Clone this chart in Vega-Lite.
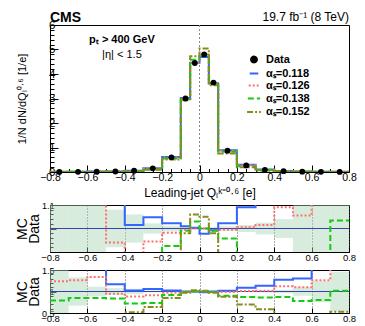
{
  "$schema": "https://vega.github.io/schema/vega-lite/v6.json",
  "padding": {"left": 14, "top": 10, "right": 8, "bottom": 0},
  "spacing": 1,
  "config": {
    "font": "Liberation Sans",
    "view": {"stroke": "#000000", "strokeWidth": 1},
    "axis": {"domain": false, "grid": false, "labelOverlap": false, "labelFlush": false, "tickColor": "#000000", "labelColor": "#000000", "titleColor": "#000000", "titleFontWeight": "normal", "labelFont": "Liberation Sans", "titleFont": "Liberation Sans"}
  },
  "resolve": {"scale": {"color": "independent", "strokeDash": "independent", "shape": "independent", "size": "independent"}, "legend": {"color": "independent", "strokeDash": "independent", "shape": "independent", "size": "independent"}},
  "datasets": {
    "obs": [
      {"s":"Data","lo":-0.8,"hi":-0.7,"c":-0.75,"v":0.005,"bl":0.4,"bh":1.6},
      {"s":"Data","lo":-0.7,"hi":-0.6,"c":-0.65,"v":0.008,"bl":0.67,"bh":1.33},
      {"s":"Data","lo":-0.6,"hi":-0.5,"c":-0.55,"v":0.012,"bl":0.89,"bh":1.11},
      {"s":"Data","lo":-0.5,"hi":-0.4,"c":-0.45,"v":0.02,"bl":0.92,"bh":1.08},
      {"s":"Data","lo":-0.4,"hi":-0.3,"c":-0.35,"v":0.05,"bl":0.94,"bh":1.06},
      {"s":"Data","lo":-0.3,"hi":-0.2,"c":-0.25,"v":0.15,"bl":0.978,"bh":1.022},
      {"s":"Data","lo":-0.2,"hi":-0.1,"c":-0.15,"v":0.6,"bl":0.988,"bh":1.012},
      {"s":"Data","lo":-0.1,"hi":-0.05,"c":-0.075,"v":3.0,"bl":0.994,"bh":1.006},
      {"s":"Data","lo":-0.05,"hi":0,"c":-0.025,"v":4.45,"bl":0.995,"bh":1.005},
      {"s":"Data","lo":0,"hi":0.05,"c":0.025,"v":4.8,"bl":0.995,"bh":1.005},
      {"s":"Data","lo":0.05,"hi":0.1,"c":0.075,"v":3.65,"bl":0.994,"bh":1.006},
      {"s":"Data","lo":0.1,"hi":0.2,"c":0.15,"v":0.87,"bl":0.99,"bh":1.01},
      {"s":"Data","lo":0.2,"hi":0.3,"c":0.25,"v":0.27,"bl":0.985,"bh":1.015},
      {"s":"Data","lo":0.3,"hi":0.4,"c":0.35,"v":0.09,"bl":0.975,"bh":1.025},
      {"s":"Data","lo":0.4,"hi":0.5,"c":0.45,"v":0.035,"bl":0.96,"bh":1.04},
      {"s":"Data","lo":0.5,"hi":0.6,"c":0.55,"v":0.015,"bl":0.9,"bh":1.1},
      {"s":"Data","lo":0.6,"hi":0.7,"c":0.65,"v":0.008,"bl":0.75,"bh":1.25},
      {"s":"Data","lo":0.7,"hi":0.8,"c":0.75,"v":0.005,"bl":0.54,"bh":1.46}
    ],
    "mc": [
      {"s":"αₛ=0.118","lo":-0.8,"hi":-0.7,"v":0.010,"ra":1.2,"rb":1.7},
      {"s":"αₛ=0.118","lo":-0.7,"hi":-0.6,"v":0.014,"ra":1.2,"rb":1.7},
      {"s":"αₛ=0.118","lo":-0.6,"hi":-0.5,"v":0.020,"ra":1.2,"rb":1.7},
      {"s":"αₛ=0.118","lo":-0.5,"hi":-0.4,"v":0.023,"ra":1.2,"rb":1.167},
      {"s":"αₛ=0.118","lo":-0.4,"hi":-0.3,"v":0.051,"ra":1.015,"rb":1.026},
      {"s":"αₛ=0.118","lo":-0.3,"hi":-0.2,"v":0.157,"ra":1.048,"rb":1.056},
      {"s":"αₛ=0.118","lo":-0.2,"hi":-0.1,"v":0.612,"ra":1.022,"rb":1.026},
      {"s":"αₛ=0.118","lo":-0.1,"hi":-0.05,"v":3.02,"ra":1.01,"rb":1.0},
      {"s":"αₛ=0.118","lo":-0.05,"hi":0,"v":4.46,"ra":1.003,"rb":1.0},
      {"s":"αₛ=0.118","lo":0,"hi":0.05,"v":4.69,"ra":0.978,"rb":0.985},
      {"s":"αₛ=0.118","lo":0.05,"hi":0.1,"v":3.62,"ra":0.993,"rb":1.0},
      {"s":"αₛ=0.118","lo":0.1,"hi":0.2,"v":0.887,"ra":1.022,"rb":1.02},
      {"s":"αₛ=0.118","lo":0.2,"hi":0.3,"v":0.294,"ra":1.09,"rb":1.09},
      {"s":"αₛ=0.118","lo":0.3,"hi":0.4,"v":0.104,"ra":1.2,"rb":1.134},
      {"s":"αₛ=0.118","lo":0.4,"hi":0.5,"v":0.045,"ra":1.2,"rb":1.276},
      {"s":"αₛ=0.118","lo":0.5,"hi":0.6,"v":0.020,"ra":1.2,"rb":1.3},
      {"s":"αₛ=0.118","lo":0.6,"hi":0.7,"v":0.014,"ra":1.2,"rb":1.7},
      {"s":"αₛ=0.118","lo":0.7,"hi":0.8,"v":0.009,"ra":1.2,"rb":1.7},

      {"s":"αₛ=0.126","lo":-0.8,"hi":-0.7,"v":0.006,"ra":1.2,"rb":1.24},
      {"s":"αₛ=0.126","lo":-0.7,"hi":-0.6,"v":0.010,"ra":1.2,"rb":1.26},
      {"s":"αₛ=0.126","lo":-0.6,"hi":-0.5,"v":0.016,"ra":1.2,"rb":1.34},
      {"s":"αₛ=0.126","lo":-0.5,"hi":-0.4,"v":0.019,"ra":0.94,"rb":0.95},
      {"s":"αₛ=0.126","lo":-0.4,"hi":-0.3,"v":0.044,"ra":0.88,"rb":0.885},
      {"s":"αₛ=0.126","lo":-0.3,"hi":-0.2,"v":0.141,"ra":0.945,"rb":0.91},
      {"s":"αₛ=0.126","lo":-0.2,"hi":-0.1,"v":0.589,"ra":0.982,"rb":0.97},
      {"s":"αₛ=0.126","lo":-0.1,"hi":-0.05,"v":2.985,"ra":0.995,"rb":0.995},
      {"s":"αₛ=0.126","lo":-0.05,"hi":0,"v":4.45,"ra":1.0,"rb":1.0},
      {"s":"αₛ=0.126","lo":0,"hi":0.05,"v":4.8,"ra":1.0,"rb":1.0},
      {"s":"αₛ=0.126","lo":0.05,"hi":0.1,"v":3.61,"ra":0.99,"rb":0.995},
      {"s":"αₛ=0.126","lo":0.1,"hi":0.2,"v":0.866,"ra":0.995,"rb":0.99},
      {"s":"αₛ=0.126","lo":0.2,"hi":0.3,"v":0.271,"ra":1.005,"rb":1.01},
      {"s":"αₛ=0.126","lo":0.3,"hi":0.4,"v":0.091,"ra":1.015,"rb":1.02},
      {"s":"αₛ=0.126","lo":0.4,"hi":0.5,"v":0.038,"ra":1.09,"rb":1.12},
      {"s":"αₛ=0.126","lo":0.5,"hi":0.6,"v":0.016,"ra":1.055,"rb":1.1},
      {"s":"αₛ=0.126","lo":0.6,"hi":0.7,"v":0.010,"ra":1.2,"rb":1.26},
      {"s":"αₛ=0.126","lo":0.7,"hi":0.8,"v":0.008,"ra":1.2,"rb":1.7},

      {"s":"αₛ=0.138","lo":-0.8,"hi":-0.7,"v":0.004,"ra":0.8,"rb":0.79},
      {"s":"αₛ=0.138","lo":-0.7,"hi":-0.6,"v":0.007,"ra":0.8,"rb":0.85},
      {"s":"αₛ=0.138","lo":-0.6,"hi":-0.5,"v":0.010,"ra":0.8,"rb":0.85},
      {"s":"αₛ=0.138","lo":-0.5,"hi":-0.4,"v":0.017,"ra":0.8,"rb":0.84},
      {"s":"αₛ=0.138","lo":-0.4,"hi":-0.3,"v":0.036,"ra":0.8,"rb":0.72},
      {"s":"αₛ=0.138","lo":-0.3,"hi":-0.2,"v":0.110,"ra":0.8,"rb":0.73},
      {"s":"αₛ=0.138","lo":-0.2,"hi":-0.1,"v":0.555,"ra":0.926,"rb":0.92},
      {"s":"αₛ=0.138","lo":-0.1,"hi":-0.05,"v":2.97,"ra":0.99,"rb":0.99},
      {"s":"αₛ=0.138","lo":-0.05,"hi":0,"v":4.58,"ra":1.03,"rb":1.0},
      {"s":"αₛ=0.138","lo":0,"hi":0.05,"v":4.8,"ra":1.0,"rb":1.0},
      {"s":"αₛ=0.138","lo":0.05,"hi":0.1,"v":3.61,"ra":0.99,"rb":0.99},
      {"s":"αₛ=0.138","lo":0.1,"hi":0.2,"v":0.830,"ra":0.957,"rb":0.9},
      {"s":"αₛ=0.138","lo":0.2,"hi":0.3,"v":0.235,"ra":0.8,"rb":0.87},
      {"s":"αₛ=0.138","lo":0.3,"hi":0.4,"v":0.077,"ra":0.8,"rb":0.86},
      {"s":"αₛ=0.138","lo":0.4,"hi":0.5,"v":0.030,"ra":0.8,"rb":0.87},
      {"s":"αₛ=0.138","lo":0.5,"hi":0.6,"v":0.012,"ra":0.8,"rb":0.78},
      {"s":"αₛ=0.138","lo":0.6,"hi":0.7,"v":0.006,"ra":0.8,"rb":0.8},
      {"s":"αₛ=0.138","lo":0.7,"hi":0.8,"v":0.005,"ra":1.034,"rb":1.02},

      {"s":"αₛ=0.152","lo":-0.8,"hi":-0.7,"v":0.002,"ra":0.8,"rb":0.4},
      {"s":"αₛ=0.152","lo":-0.7,"hi":-0.6,"v":0.003,"ra":0.8,"rb":0.4},
      {"s":"αₛ=0.152","lo":-0.6,"hi":-0.5,"v":0.004,"ra":0.8,"rb":0.4},
      {"s":"αₛ=0.152","lo":-0.5,"hi":-0.4,"v":0.007,"ra":0.8,"rb":0.4},
      {"s":"αₛ=0.152","lo":-0.4,"hi":-0.3,"v":0.026,"ra":0.8,"rb":0.52},
      {"s":"αₛ=0.152","lo":-0.3,"hi":-0.2,"v":0.096,"ra":0.8,"rb":0.64},
      {"s":"αₛ=0.152","lo":-0.2,"hi":-0.1,"v":0.51,"ra":0.8,"rb":0.85},
      {"s":"αₛ=0.152","lo":-0.1,"hi":-0.05,"v":2.93,"ra":0.98,"rb":0.97},
      {"s":"αₛ=0.152","lo":-0.05,"hi":0,"v":4.72,"ra":1.06,"rb":1.03},
      {"s":"αₛ=0.152","lo":0,"hi":0.05,"v":5.04,"ra":1.05,"rb":1.02},
      {"s":"αₛ=0.152","lo":0.05,"hi":0.1,"v":3.54,"ra":0.98,"rb":0.97},
      {"s":"αₛ=0.152","lo":0.1,"hi":0.2,"v":0.757,"ra":0.8,"rb":0.88},
      {"s":"αₛ=0.152","lo":0.2,"hi":0.3,"v":0.189,"ra":0.8,"rb":0.7},
      {"s":"αₛ=0.152","lo":0.3,"hi":0.4,"v":0.053,"ra":0.8,"rb":0.59},
      {"s":"αₛ=0.152","lo":0.4,"hi":0.5,"v":0.016,"ra":0.8,"rb":0.45},
      {"s":"αₛ=0.152","lo":0.5,"hi":0.6,"v":0.006,"ra":0.8,"rb":0.4},
      {"s":"αₛ=0.152","lo":0.6,"hi":0.7,"v":0.003,"ra":0.8,"rb":0.4},
      {"s":"αₛ=0.152","lo":0.7,"hi":0.8,"v":0.003,"ra":0.8,"rb":0.53}
    ]
  },
  "vconcat": [
    {
      "width": 299,
      "height": 147,
      "layer": [
        {
          "data": {"values": [{}]},
          "mark": {"type": "rule", "color": "#888888", "strokeDash": [2, 2], "strokeWidth": 1},
          "encoding": {"x": {"datum": 0, "type": "quantitative"}}
        },
        {
          "data": {"name": "mc"},
          "transform": [{"fold": ["lo", "hi"], "as": ["edge", "x"]}],
          "mark": {"type": "line", "strokeWidth": 2, "clip": true},
          "encoding": {
            "x": {"field": "x", "type": "quantitative", "title": "Leading-jet Qₗᵏ⁼⁰·⁶ [e]",
              "scale": {"domain": [-0.8, 0.8], "nice": false, "zero": false},
              "axis": {"values": [-0.8,-0.75,-0.7,-0.65,-0.6,-0.55,-0.5,-0.45,-0.4,-0.35,-0.3,-0.25,-0.2,-0.15,-0.1,-0.05,0,0.05,0.1,0.15,0.2,0.25,0.3,0.35,0.4,0.45,0.5,0.55,0.6,0.65,0.7,0.75,0.8],
                "labelExpr": "abs(datum.value*5 - round(datum.value*5)) < 0.001 ? datum.label : ''",
                "tickSize": {"condition": {"test": "abs(datum.value*5 - round(datum.value*5)) < 0.001", "value": -7}, "value": -3.5},
                "tickCount": 100, "labelOverlap": false, "format": "~g", "labelFontSize": 10.5, "titleFontSize": 12, "labelPadding": 7, "titlePadding": 1}},
            "y": {"field": "v", "type": "quantitative", "title": "1/N dN/dQₗ⁰·⁶ [1/e]",
              "scale": {"domain": [0, 6], "nice": false},
              "axis": {"values": [0,0.2,0.4,0.6,0.8,1,1.2,1.4,1.6,1.8,2,2.2,2.4,2.6,2.8,3,3.2,3.4,3.6,3.8,4,4.2,4.4,4.6,4.8,5,5.2,5.4,5.6,5.8,6],
                "labelExpr": "abs(datum.value - round(datum.value)) < 0.001 ? datum.label : ''",
                "tickSize": {"condition": {"test": "abs(datum.value - round(datum.value)) < 0.001", "value": -8}, "value": -4},
                "tickCount": 100, "labelOverlap": false, "format": "~g", "labelFontSize": 11.5, "titleFontSize": 11, "labelPadding": 3, "titlePadding": 21}},
            "color": {"field": "s", "type": "nominal",
              "scale": {"domain": ["Data", "αₛ=0.118", "αₛ=0.126", "αₛ=0.138", "αₛ=0.152"], "range": ["#000000", "#3366ff", "#ff6f6f", "#11cc11", "#8a8a1e"]},
              "legend": {"orient": "none", "legendX": 196, "legendY": 29, "title": null, "labelFontSize": 11, "labelFontWeight": "bold", "rowPadding": 0, "symbolStrokeWidth": 2, "symbolSize": 190, "labelOffset": 4}},
            "strokeDash": {"field": "s", "type": "nominal",
              "scale": {"domain": ["Data", "αₛ=0.118", "αₛ=0.126", "αₛ=0.138", "αₛ=0.152"], "range": [[1, 0], [1, 0], [2, 2], [6, 3], [6, 2, 2, 2]]},
              "legend": {"orient": "none", "legendX": 196, "legendY": 29, "title": null, "labelFontSize": 11, "labelFontWeight": "bold", "rowPadding": 0, "symbolStrokeWidth": 2, "symbolSize": 190, "labelOffset": 4}},
            "order": [{"field": "x", "type": "quantitative"}, {"field": "edge", "type": "ordinal"}]
          }
        },
        {
          "data": {"name": "obs"},
          "mark": {"type": "point", "filled": true, "opacity": 1},
          "encoding": {
            "x": {"field": "c", "type": "quantitative", "title": "Leading-jet Qₗᵏ⁼⁰·⁶ [e]"},
            "y": {"field": "v", "type": "quantitative", "title": "1/N dN/dQₗ⁰·⁶ [1/e]"},
            "color": {"field": "s", "type": "nominal"},
            "shape": {"field": "s", "type": "nominal",
              "scale": {"domain": ["Data", "αₛ=0.118", "αₛ=0.126", "αₛ=0.138", "αₛ=0.152"], "range": ["circle", "stroke", "stroke", "stroke", "stroke"]},
              "legend": {"orient": "none", "legendX": 196, "legendY": 29, "title": null, "labelFontSize": 11, "labelFontWeight": "bold", "rowPadding": 0, "symbolStrokeWidth": 2, "symbolSize": 190, "labelOffset": 4}},
            "size": {"field": "s", "type": "nominal",
              "scale": {"domain": ["Data", "αₛ=0.118", "αₛ=0.126", "αₛ=0.138", "αₛ=0.152"], "range": [34, 190, 190, 190, 190]},
              "legend": {"orient": "none", "legendX": 196, "legendY": 29, "title": null, "labelFontSize": 11, "labelFontWeight": "bold", "rowPadding": 0, "symbolStrokeWidth": 2, "labelOffset": 4}}
          }
        },
        {
          "data": {"values": [{}]},
          "mark": {"type": "text", "text": "CMS", "fontWeight": "bold", "fontSize": 14, "align": "left", "baseline": "alphabetic", "dy": -3},
          "encoding": {"x": {"datum": -0.8, "type": "quantitative"}, "y": {"datum": 6, "type": "quantitative"}}
        },
        {
          "data": {"values": [{}]},
          "mark": {"type": "text", "text": "19.7 fb⁻¹ (8 TeV)", "fontSize": 12, "align": "right", "baseline": "alphabetic", "dy": -4},
          "encoding": {"x": {"datum": 0.8, "type": "quantitative"}, "y": {"datum": 6, "type": "quantitative"}}
        },
        {
          "data": {"values": [{}]},
          "mark": {"type": "text", "text": "pₜ > 400 GeV", "fontWeight": "bold", "fontSize": 11, "align": "center", "baseline": "middle"},
          "encoding": {"x": {"datum": -0.415, "type": "quantitative"}, "y": {"datum": 5.4, "type": "quantitative"}}
        },
        {
          "data": {"values": [{}]},
          "mark": {"type": "text", "text": "|η| < 1.5", "fontSize": 11, "align": "center", "baseline": "middle"},
          "encoding": {"x": {"datum": -0.415, "type": "quantitative"}, "y": {"datum": 4.78, "type": "quantitative"}}
        }
      ]
    },
    {
      "spacing": 3,
      "vconcat": [
        {
          "width": 299,
          "height": 47,
          "layer": [
            {
              "data": {"name": "obs"},
              "mark": {"type": "rect", "color": "#a8d5b5", "opacity": 0.45, "clip": true},
              "encoding": {
                "x": {"field": "lo", "type": "quantitative", "title": null,
                  "scale": {"domain": [-0.8, 0.8], "nice": false, "zero": false},
                  "axis": {"values": [-0.8, -0.6, -0.4, -0.2, 0, 0.2, 0.4, 0.6, 0.8], "tickCount": 40, "labelOverlap": false, "format": "~g", "labelFontSize": 9.5, "tickSize": -5, "labelPadding": 5, "grid": true, "gridDash": [1, 2], "gridColor": "#555555"}},
                "x2": {"field": "hi"},
                "y": {"field": "bl", "type": "quantitative", "title": ["MC", "Data"],
                  "scale": {"domain": [0.9, 1.1], "nice": false, "zero": false},
                  "axis": {"values": [0.9,0.92,0.94,0.96,0.98,1,1.02,1.04,1.06,1.08,1.1],
                    "labelExpr": "abs(datum.value*10 - round(datum.value*10)) < 0.001 && abs(datum.value - 0.95) > 0.06 ? datum.label : ''",
                    "tickSize": {"condition": {"test": "abs(datum.value*10 - round(datum.value*10)) < 0.001", "value": -6}, "value": -3},
                    "tickCount": 100, "labelOverlap": false, "format": "~g", "labelFontSize": 9, "titleFontSize": 14, "titleLineHeight": 12, "labelPadding": 2, "titlePadding": 0}},
                "y2": {"field": "bh"}
              }
            },
            {
              "data": {"values": [{}]},
              "mark": {"type": "rule", "color": "#3344aa", "strokeWidth": 1},
              "encoding": {"y": {"datum": 1, "type": "quantitative"}}
            },
            {
              "data": {"name": "mc"},
              "transform": [{"fold": ["lo", "hi"], "as": ["edge", "x"]}],
              "mark": {"type": "line", "strokeWidth": 2, "clip": true},
              "encoding": {
                "x": {"field": "x", "type": "quantitative", "title": null},
                "y": {"field": "ra", "type": "quantitative", "title": ["MC", "Data"]},
                "color": {"field": "s", "type": "nominal", "legend": null,
                  "scale": {"domain": ["Data", "αₛ=0.118", "αₛ=0.126", "αₛ=0.138", "αₛ=0.152"], "range": ["#000000", "#3366ff", "#ff6f6f", "#11cc11", "#8a8a1e"]}},
                "strokeDash": {"field": "s", "type": "nominal", "legend": null,
                  "scale": {"domain": ["Data", "αₛ=0.118", "αₛ=0.126", "αₛ=0.138", "αₛ=0.152"], "range": [[1, 0], [1, 0], [2, 2], [6, 3], [6, 2, 2, 2]]}},
                "order": [{"field": "x", "type": "quantitative"}, {"field": "edge", "type": "ordinal"}]
              }
            }
          ]
        },
        {
          "width": 299,
          "height": 43,
          "layer": [
            {
              "data": {"name": "obs"},
              "mark": {"type": "rect", "color": "#a8d5b5", "opacity": 0.45, "clip": true},
              "encoding": {
                "x": {"field": "lo", "type": "quantitative", "title": null,
                  "scale": {"domain": [-0.8, 0.8], "nice": false, "zero": false},
                  "axis": {"values": [-0.8, -0.6, -0.4, -0.2, 0, 0.2, 0.4, 0.6, 0.8], "tickCount": 40, "labelOverlap": false, "format": "~g", "labelFontSize": 9.5, "tickSize": -5, "labelPadding": 5, "grid": true, "gridDash": [1, 2], "gridColor": "#555555"}},
                "x2": {"field": "hi"},
                "y": {"field": "bl", "type": "quantitative", "title": ["MC", "Data"],
                  "scale": {"domain": [0.5, 1.5], "nice": false, "zero": false},
                  "axis": {"values": [0.5,0.6,0.7,0.8,0.9,1,1.1,1.2,1.3,1.4,1.5],
                    "labelExpr": "abs(datum.value*2 - round(datum.value*2)) < 0.001 ? datum.label : ''",
                    "tickSize": {"condition": {"test": "abs(datum.value*2 - round(datum.value*2)) < 0.001", "value": -6}, "value": -3},
                    "tickCount": 100, "labelOverlap": false, "format": "~g", "labelFontSize": 9, "titleFontSize": 14, "titleLineHeight": 12, "labelPadding": 2, "titlePadding": 0}},
                "y2": {"field": "bh"}
              }
            },
            {
              "data": {"values": [{}]},
              "mark": {"type": "rule", "color": "#3344aa", "strokeWidth": 1},
              "encoding": {"y": {"datum": 1, "type": "quantitative"}}
            },
            {
              "data": {"name": "mc"},
              "transform": [{"fold": ["lo", "hi"], "as": ["edge", "x"]}],
              "mark": {"type": "line", "strokeWidth": 2, "clip": true},
              "encoding": {
                "x": {"field": "x", "type": "quantitative", "title": null},
                "y": {"field": "rb", "type": "quantitative", "title": ["MC", "Data"]},
                "color": {"field": "s", "type": "nominal", "legend": null,
                  "scale": {"domain": ["Data", "αₛ=0.118", "αₛ=0.126", "αₛ=0.138", "αₛ=0.152"], "range": ["#000000", "#3366ff", "#ff6f6f", "#11cc11", "#8a8a1e"]}},
                "strokeDash": {"field": "s", "type": "nominal", "legend": null,
                  "scale": {"domain": ["Data", "αₛ=0.118", "αₛ=0.126", "αₛ=0.138", "αₛ=0.152"], "range": [[1, 0], [1, 0], [2, 2], [6, 3], [6, 2, 2, 2]]}},
                "order": [{"field": "x", "type": "quantitative"}, {"field": "edge", "type": "ordinal"}]
              }
            }
          ]
        }
      ]
    }
  ]
}
